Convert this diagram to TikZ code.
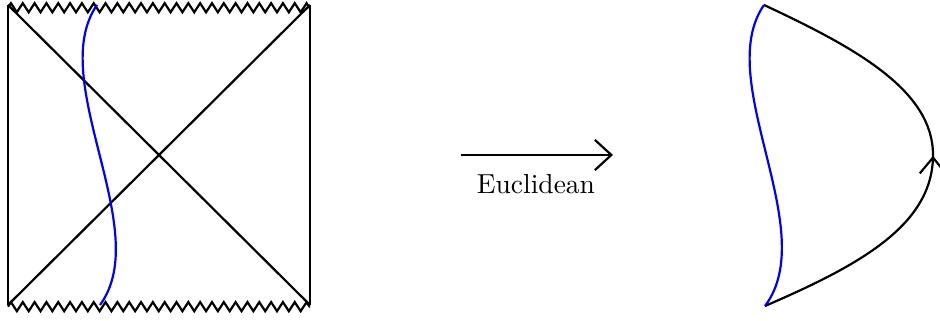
\documentclass[tikz,border=0pt]{standalone}
\usetikzlibrary{arrows.meta,decorations.pathmorphing,decorations.markings}
\begin{document}
\begin{tikzpicture}[x=0.36364pt,y=-0.36364pt,
  edge/.style={thick,black},
  sing/.style={thick,black,decorate,decoration={zigzag,segment length=4.3pt,amplitude=1.65pt}},
  world/.style={thick,blue},
  barb/.style={-{Straight Barb[length=6pt,width=11pt]}},
  midarrow/.style={postaction={decorate},decoration={markings,mark=at position 0.5 with {\arrow{Straight Barb[length=5.8pt,width=9.5pt]}}}},
  lbl/.style={inner sep=0pt,font=\normalsize}]
\useasboundingbox (0,0) rectangle (940,321);
% Penrose diagram
\coordinate (tl) at (8,5);
\coordinate (tr) at (310,5);
\coordinate (bl) at (8,305);
\coordinate (br) at (310,305);
\draw[edge] (tl) -- (bl);
\draw[edge] (tr) -- (br);
\draw[edge] (tl) -- (br);
\draw[edge] (bl) -- (tr);
\draw[sing] ([yshift=-1pt]tl) -- ([yshift=-1pt]tr);
\draw[sing] ([yshift=-0.6pt]bl) -- ([yshift=-0.6pt]br);
\coordinate (wt) at (97,5);
\coordinate (wb) at (100,305);
\draw[world] (wt) .. controls (45,80) and (155,230) .. (wb);
% Arrow
\coordinate (as) at (461,155);
\coordinate (ae) at (613,155);
\draw[edge,barb] (as) -- (ae);
\node[lbl] (eu) at (536,184) {Euclidean};
% Euclidean section
\coordinate (et) at (764,5);
\coordinate (eb) at (765,306);
\coordinate (em) at (933,155);
\draw[edge,midarrow] (eb) .. controls (860,265) and (933,225) .. (em)
  .. controls (933,90) and (854.6,47.3) .. (et);
\draw[world] (et) .. controls (712,80) and (822,230) .. (eb);
\end{tikzpicture}
\end{document}
